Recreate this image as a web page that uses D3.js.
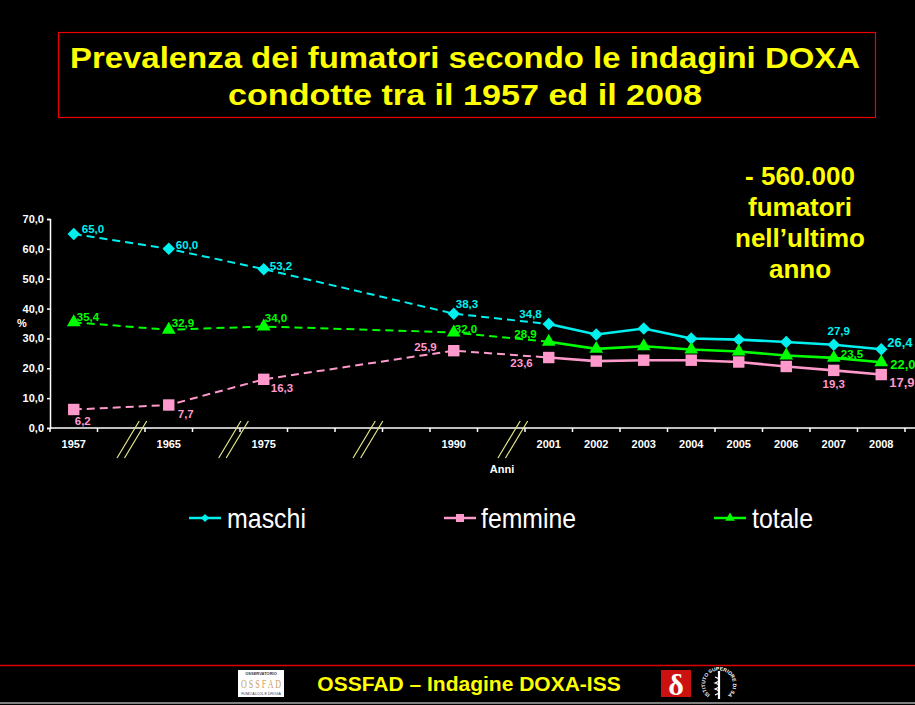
<!DOCTYPE html>
<html lang="it">
<head>
  <meta charset="UTF-8" />
  <title>Prevalenza dei fumatori DOXA 1957-2008</title>
  <style>
    html, body {
      margin: 0;
      padding: 0;
      background: #000;
    }
    svg text {
      font-family: "Liberation Sans", Arial, sans-serif;
    }
  </style>
</head>
<body>
  <div id="chart"></div>

  <script src="https://d3js.org/d3.v7.min.js"></script>
  <script>
    // slots on the x axis: empty ones ("_x") are the compressed gaps between surveys
    const slots = ["1957", "_a", "1965", "_b", "1975", "_c", "_d", "_e", "1990", "_f",
                   "2001", "2002", "2003", "2004", "2005", "2006", "2007", "2008"];
    const years = ["1957", "1965", "1975", "1990", "2001", "2002", "2003", "2004", "2005", "2006", "2007", "2008"];
    const maschi  = [65.0, 60.0, 53.2, 38.3, 34.8, 31.3, 33.3, 30.0, 29.6, 28.8, 27.9, 26.4];
    const femmine = [6.2, 7.7, 16.3, 25.9, 23.6, 22.4, 22.7, 22.7, 22.1, 20.6, 19.3, 17.9];
    const totale  = [35.4, 32.9, 34.0, 32.0, 28.9, 26.5, 27.4, 26.3, 25.6, 24.3, 23.5, 22.0];
    const yTicks = [0, 10, 20, 30, 40, 50, 60, 70];
    const labelled = ["1957", "1965", "1975", "1990", "2001", "2007", "2008"];

    const W = 915, H = 705;
    const svg = d3.select("#chart").append("svg")
      .attr("width", W)
      .attr("height", H);

    svg.append("rect").attr("width", W).attr("height", H).attr("fill", "#000");

    // title box
    svg.append("rect")
      .attr("x", 58.5).attr("y", 32.5)
      .attr("width", 817).attr("height", 85)
      .attr("fill", "none")
      .attr("stroke", "#ee0000")
      .attr("stroke-width", 1.2);

    const titleLines = [
      {t: "Prevalenza dei fumatori secondo le indagini DOXA", y: 68, len: 790},
      {t: "condotte tra il 1957 ed il 2008", y: 105, len: 474}
    ];
    svg.selectAll(".title").data(titleLines).enter().append("text")
      .attr("class", "title")
      .attr("x", 465).attr("y", d => d.y)
      .attr("text-anchor", "middle")
      .attr("textLength", d => d.len)
      .attr("lengthAdjust", "spacingAndGlyphs")
      .style("font-weight", "bold")
      .style("font-size", "30px")
      .attr("fill", "#ffff00")
      .text(d => d.t);

    // annotation
    const note = ["- 560.000", "fumatori", "nell\u2019ultimo", "anno"];
    svg.selectAll(".note").data(note).enter().append("text")
      .attr("x", 800).attr("y", (d, i) => 185 + i * 31)
      .attr("text-anchor", "middle")
      .style("font-weight", "bold")
      .style("font-size", "26px")
      .attr("fill", "#ffff00")
      .text(d => d);

    // scales
    const x = d3.scaleBand().domain(slots).range([50, 905]).padding(0);
    const y = d3.scaleLinear().domain([0, 70]).range([428, 219]);
    const cx = yr => x(yr) + x.bandwidth() / 2;

    // y axis
    const yAxis = svg.append("g")
      .attr("transform", "translate(50,0)")
      .call(d3.axisLeft(y).tickValues(yTicks).tickSize(3)
        .tickFormat(d => d3.format(".1f")(d).replace(".", ",")));
    yAxis.select(".domain").attr("stroke", "#fff").attr("stroke-width", 1.5);
    yAxis.selectAll(".tick line").attr("stroke", "#fff").attr("stroke-width", 1.5);
    yAxis.selectAll(".tick text")
      .attr("fill", "#fff")
      .attr("x", -6)
      .style("font-size", "11px")
      .style("font-weight", "bold");

    svg.append("text")
      .attr("x", 17).attr("y", 327)
      .attr("fill", "#fff")
      .style("font-size", "11px").style("font-weight", "bold")
      .text("%");

    // x axis
    const xAxis = svg.append("g")
      .attr("transform", "translate(0,428)")
      .call(d3.axisBottom(x).tickSize(0).tickPadding(12)
        .tickFormat(d => d.startsWith("_") ? "" : d));
    xAxis.select(".domain").attr("stroke", "#fff").attr("stroke-width", 1.5)
      .attr("d", "M50,0H915");
    xAxis.selectAll(".tick text")
      .attr("fill", "#fff")
      .style("font-size", "11px")
      .style("font-weight", "bold");

    const bounds = slots.map(s => x(s)).concat([x.range()[1]]);
    svg.append("g").selectAll("line").data(bounds).enter().append("line")
      .attr("x1", d => d).attr("x2", d => d)
      .attr("y1", 428).attr("y2", 432)
      .attr("stroke", "#fff").attr("stroke-width", 1.5);

    svg.append("text")
      .attr("x", 502).attr("y", 473)
      .attr("text-anchor", "middle")
      .attr("fill", "#fff")
      .style("font-size", "11px").style("font-weight", "bold")
      .text("Anni");

    // axis break marks (position in slot units along the axis)
    const breaks = [1.79, 3.93, 6.76, 9.81];
    const step = x.step();
    breaks.forEach(b => {
      const xa = x.range()[0] + b * step;
      [0, 7.5].forEach(off => {
        svg.append("line")
          .attr("x1", xa + off + 4.2).attr("y1", 421)
          .attr("x2", xa + off - 18).attr("y2", 458)
          .attr("stroke", "#e6e68a").attr("stroke-width", 1.2);
      });
    });

    // series
    const series = [
      {name: "maschi", values: maschi, color: "#00f0f0", sym: "diamond"},
      {name: "femmine", values: femmine, color: "#ff99cc", sym: "square"},
      {name: "totale", values: totale, color: "#00ff00", sym: "triangle"}
    ];

    // label offsets per series, keyed by year: [dx, dy, anchor]
    const labelPos = {
      maschi: {"1957": [8, -1, "start"], "1965": [7, 0, "start"], "1975": [6, 1, "start"],
               "1990": [2, -6, "start"], "2001": [-7, -6, "end"], "2007": [5, -10, "middle"],
               "2008": [6, -2, "start"]},
      femmine: {"1957": [1, 15.5, "start"], "1965": [9, 13, "start"], "1975": [7, 13, "start"],
                "1990": [-17, 0, "end"], "2001": [-16, 9, "end"], "2007": [0, 18, "middle"],
                "2008": [8, 12, "start"]},
      totale: {"1957": [3, -1, "start"], "1965": [3, -3, "start"], "1975": [1, -4, "start"],
               "1990": [1, 1, "start"], "2001": [-12, -4, "end"], "2007": [7, 0, "start"],
               "2008": [9, 6.5, "start"]}
    };

    const line = d3.line().x(d => cx(d.year)).y(d => y(d.v));
    const symbolPath = (sym, big) => {
      if (sym === "diamond") return d3.symbol(d3.symbolSquare, big ? 78 : 34)();
      if (sym === "square") return d3.symbol(d3.symbolSquare, big ? 130 : 64)();
      return d3.symbol(d3.symbolTriangle, big ? 82 : 40)();
    };
    const fmt = v => d3.format(".1f")(v).replace(".", ",");

    series.forEach(s => {
      const pts = years.map((yr, i) => ({year: yr, v: s.values[i]}));
      const split = years.indexOf("2001");

      svg.append("path")
        .datum(pts.slice(0, split + 1))
        .attr("d", line)
        .attr("fill", "none")
        .attr("stroke", s.color)
        .attr("stroke-width", 2)
        .attr("stroke-dasharray", "8,5");

      svg.append("path")
        .datum(pts.slice(split))
        .attr("d", line)
        .attr("fill", "none")
        .attr("stroke", s.color)
        .attr("stroke-width", 2.6);

      svg.append("g").selectAll("path").data(pts).enter().append("path")
        .attr("d", symbolPath(s.sym, true))
        .attr("transform", d => `translate(${cx(d.year)},${y(d.v)})` + (s.sym === "diamond" ? " rotate(45)" : ""))
        .attr("fill", s.color);

      svg.append("g").selectAll("text").data(pts.filter(d => labelled.includes(d.year))).enter()
        .append("text")
        .attr("x", d => cx(d.year) + labelPos[s.name][d.year][0])
        .attr("y", d => y(d.v) + labelPos[s.name][d.year][1])
        .attr("text-anchor", d => labelPos[s.name][d.year][2])
        .attr("fill", s.color)
        .style("font-weight", "bold")
        .style("font-size", d => d.year === "2008" ? "13px" : "11.5px")
        .text(d => fmt(d.v));
    });

    // legend
    const legend = [
      {x: 189, tx: 227, len: 79},
      {x: 444, tx: 481, len: 95},
      {x: 714, tx: 752, len: 61}
    ];
    legend.forEach((l, i) => {
      const s = series[i];
      const g = svg.append("g");
      g.append("line")
        .attr("x1", l.x).attr("x2", l.x + 32)
        .attr("y1", 518).attr("y2", 518)
        .attr("stroke", s.color).attr("stroke-width", 2.5);
      g.append("path")
        .attr("d", symbolPath(s.sym, false))
        .attr("transform", `translate(${l.x + 16},518)` + (s.sym === "diamond" ? " rotate(45)" : ""))
        .attr("fill", s.color);
      g.append("text")
        .attr("x", l.tx).attr("y", 528)
        .attr("textLength", l.len)
        .attr("lengthAdjust", "spacingAndGlyphs")
        .attr("fill", "#fff")
        .style("font-size", "28px")
        .text(s.name);
    });

    // footer
    svg.append("line")
      .attr("x1", 0).attr("x2", W).attr("y1", 665.5).attr("y2", 665.5)
      .attr("stroke", "#dd0000").attr("stroke-width", 1.5);
    svg.append("line")
      .attr("x1", 0).attr("x2", W).attr("y1", 703).attr("y2", 703)
      .attr("stroke", "#fff").attr("stroke-width", 1.2);

    svg.append("text")
      .attr("x", 469).attr("y", 691)
      .attr("text-anchor", "middle")
      .attr("fill", "#ffff00")
      .style("font-size", "21px").style("font-weight", "bold")
      .text("OSSFAD \u2013 Indagine DOXA-ISS");

    // OSSFAD logo
    const lg = svg.append("g").attr("transform", "translate(238,670)");
    lg.append("rect").attr("width", 46).attr("height", 27).attr("fill", "#fff");
    lg.append("text").attr("x", 23).attr("y", 5).attr("text-anchor", "middle")
      .attr("fill", "#334").style("font-size", "4px").style("font-weight", "bold").text("OSSERVATORIO");
    lg.append("text").attr("x", 23).attr("y", 18).attr("text-anchor", "middle")
      .attr("textLength", 40).attr("lengthAdjust", "spacingAndGlyphs")
      .attr("fill", "#c8a060").style("font-size", "13px").style("font-family", "'Liberation Serif', serif")
      .text("O S S F A D");
    lg.append("text").attr("x", 23).attr("y", 24.5).attr("text-anchor", "middle")
      .attr("fill", "#335").style("font-size", "3.5px").text("FUMO ALCOL E DROGA");

    // DOXA logo
    svg.append("rect").attr("x", 661).attr("y", 670).attr("width", 30).attr("height", 27).attr("fill", "#cc1111");
    svg.append("text").attr("x", 676).attr("y", 695).attr("text-anchor", "middle")
      .attr("fill", "#fff").style("font-size", "30px").style("font-weight", "bold")
      .style("font-family", "'Liberation Serif', serif").text("\u03b4");

    // ISS seal
    const iss = svg.append("g").attr("transform", "translate(719,683)");
    iss.append("path").attr("id", "sealArc")
      .attr("d", "M-9,12 A14,14 0 1,1 9,12").attr("fill", "none");
    iss.append("text").style("font-size", "5px").style("font-weight", "bold").attr("fill", "#fff")
      .append("textPath").attr("href", "#sealArc")
      .text("ISTITUTO SUPERIORE DI SANITÀ");
    iss.append("line").attr("x1", 0).attr("x2", 0).attr("y1", -12).attr("y2", 16)
      .attr("stroke", "#fff").attr("stroke-width", 2.2);
    iss.append("path").attr("d", "M-4,-6 Q4,-3 -4,0 Q4,3 -4,6 Q4,9 -4,12")
      .attr("fill", "none").attr("stroke", "#fff").attr("stroke-width", 1.2);
  </script>
</body>
</html>
